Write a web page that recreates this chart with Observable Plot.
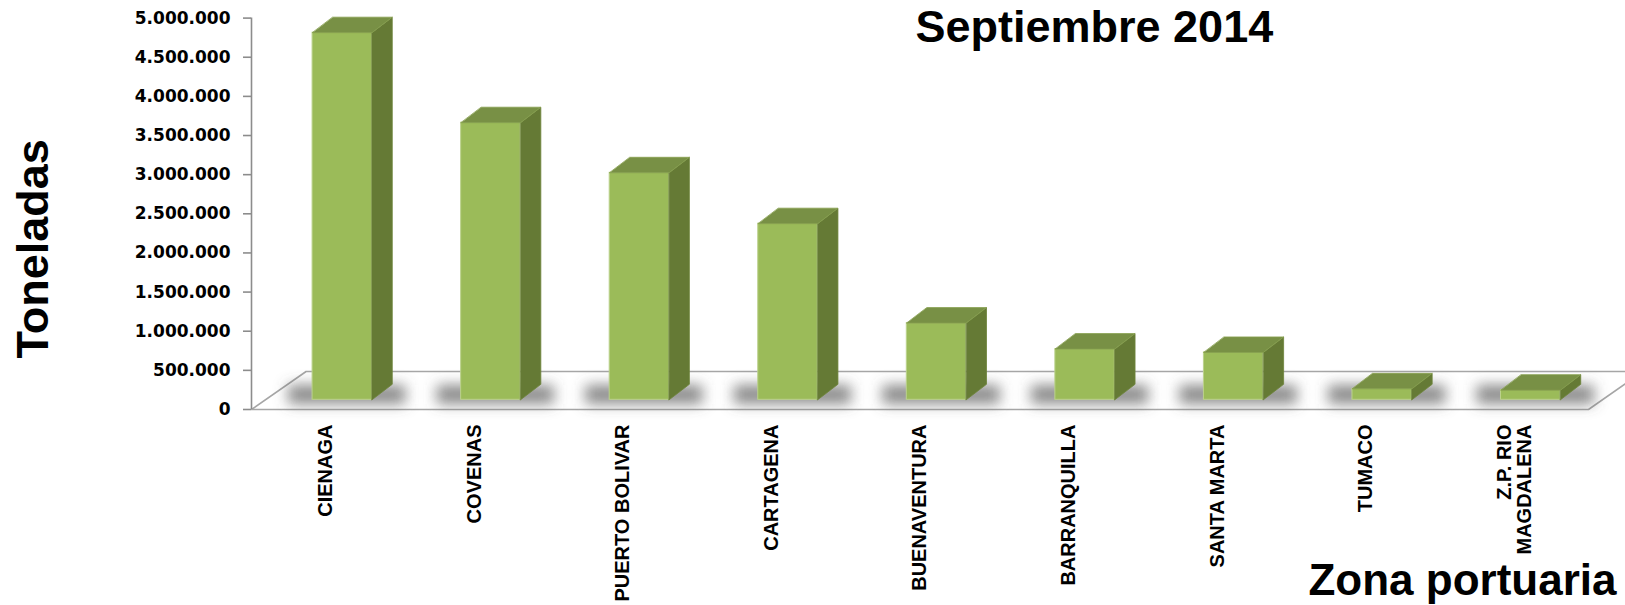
<!DOCTYPE html>
<html><head><meta charset="utf-8">
<script src="https://cdn.jsdelivr.net/npm/d3@7"></script>
<script src="https://cdn.jsdelivr.net/npm/@observablehq/plot@0.6"></script>
<style>
html,body{margin:0;padding:0;background:#fff;overflow:hidden}
#chart svg{overflow:visible}
</style></head><body><div id="chart"></div>
<script>
// ---- data ----
const categories = ["CIENAGA","COVENAS","PUERTO BOLIVAR","CARTAGENA","BUENAVENTURA","BARRANQUILLA","SANTA MARTA","TUMACO","Z.P. RIO\nMAGDALENA"];
const toneladas = [4690000, 3540000, 2900000, 2250000, 980000, 648000, 605000, 140000, 123000];
const yTicks = [0, 500000, 1000000, 1500000, 2000000, 2500000, 3000000, 3500000, 4000000, 4500000, 5000000];
const titleText = "Septiembre 2014";
const yTitle = "Toneladas";
const xTitle = "Zona portuaria";

// ---- layout ----
const W = 1625, H = 605, ML = 251, MR = 37, MT = 17.6, MB = 196;
const yMax = 5000000;
const kx = categories.length / (W - ML - MR);   // index units per px
const ky = yMax / (H - MT - MB);                // tonnes per px
// 3D geometry in px
const shiftX = 16.5, shiftY = 9.7, half = 29.7, depX = 20.3, depY = 15.5, floorX = 54.6, floorY = 38;

const idx = categories.map((_, i) => i);
const bars = idx.map(i => {
  const L = i + (shiftX - half) * kx, R = i + (shiftX + half) * kx;
  const b = shiftY * ky, t = toneladas[i] + shiftY * ky;
  return {i, L, R, b, t};
});
const sidePts = bars.flatMap(d => [
  {id: d.i, x: d.R, y: d.b}, {id: d.i, x: d.R + depX * kx, y: d.b + depY * ky},
  {id: d.i, x: d.R + depX * kx, y: d.t + depY * ky}, {id: d.i, x: d.R, y: d.t}
]);
const topPts = bars.flatMap(d => [
  {id: d.i, x: d.L, y: d.t}, {id: d.i, x: d.R, y: d.t},
  {id: d.i, x: d.R + depX * kx, y: d.t + depY * ky}, {id: d.i, x: d.L + depX * kx, y: d.t + depY * ky}
]);
const x0 = -0.5, x1 = categories.length - 0.5;
const floorPts = [
  {x: x0, y: 0}, {x: x1, y: 0}, {x: x1 + floorX * kx, y: floorY * ky}, {x: x0 + floorX * kx, y: floorY * ky}
];

const fmt = d3.formatLocale({decimal: ",", thousands: ".", grouping: [3], currency: ["", ""]}).format(",d");
const arial = "'Liberation Sans', Arial, Helvetica, sans-serif";
const shadowFill = "#5a5a5a";

const plot = Plot.plot({
  width: W, height: H,
  marginLeft: ML, marginRight: MR, marginTop: MT, marginBottom: MB,
  style: {fontFamily: arial, background: "#fff", color: "#000", overflow: "visible"},
  x: {type: "linear", domain: [x0, x1]},
  y: {type: "linear", domain: [0, yMax]},
  marks: [
    Plot.line(floorPts, {x: "x", y: "y", curve: "linear-closed", fill: "#fff", stroke: "#a6a6a6", strokeWidth: 1.6}),
    Plot.rect(bars, {x1: d => d.L - 24 * kx, x2: d => d.R + 34 * kx, y1: 5 * ky, y2: 24 * ky,
      fill: shadowFill, fillOpacity: 0.7, ariaLabel: "shadow"}),
    Plot.rect(bars, {x1: "L", x2: "R", y1: "b", y2: "t", fill: "#9bbb59", stroke: "#bcd28d", strokeWidth: 1}),
    Plot.line(sidePts, {x: "x", y: "y", z: "id", curve: "linear-closed", fill: "#657a35", stroke: "#6d843a", strokeWidth: 0.8}),
    Plot.line(topPts, {x: "x", y: "y", z: "id", curve: "linear-closed", fill: "#789045", stroke: "#86a04e", strokeWidth: 0.8}),
    Plot.ruleX([x0], {y1: 0, y2: yMax, stroke: "#8c8c8c", strokeWidth: 1.6}),
    Plot.axisY(yTicks, {tickFormat: fmt, tickSize: 8, tickPadding: 13, stroke: "#8c8c8c", strokeWidth: 1.6,
      fill: "#000", fontSize: 17, fontWeight: "bold", fontFamily: "'DejaVu Sans', Verdana, sans-serif", label: null}),
    Plot.axisX(idx, {tickFormat: i => categories[i], tickRotate: -90, tickSize: 0, tickPadding: 15,
      fill: "#000", fontSize: 20, fontWeight: "bold", fontFamily: arial, label: null}),
    Plot.text([titleText], {text: d => d, frameAnchor: "top-left", dx: 664, dy: 23.5, textAnchor: "start",
      lineAnchor: "bottom", fontSize: 45, fontWeight: "bold", fill: "#000"}),
    Plot.text([yTitle], {text: d => d, frameAnchor: "left", dx: -218, dy: 35, rotate: -90, textAnchor: "middle",
      lineAnchor: "middle", fontSize: 45, fontWeight: "bold", fill: "#000"}),
    Plot.text([xTitle], {text: d => d, frameAnchor: "bottom-right", dx: 28, dy: 185, textAnchor: "end",
      lineAnchor: "bottom", fontSize: 44, fontWeight: "bold", fill: "#000"})
  ]
});

const svg = d3.select(plot);
const defs = svg.insert("defs", ":first-child");
defs.append("filter").attr("id", "blurShadow")
  .attr("filterUnits", "userSpaceOnUse").attr("x", 0).attr("y", 0).attr("width", W).attr("height", H)
  .append("feGaussianBlur").attr("stdDeviation", 7);
svg.selectAll("g").filter(function() {
  return this.getAttribute("aria-label") === "shadow" || this.getAttribute("fill") === shadowFill;
}).attr("filter", "url(#blurShadow)");
document.getElementById("chart").appendChild(plot);
</script></body></html>
